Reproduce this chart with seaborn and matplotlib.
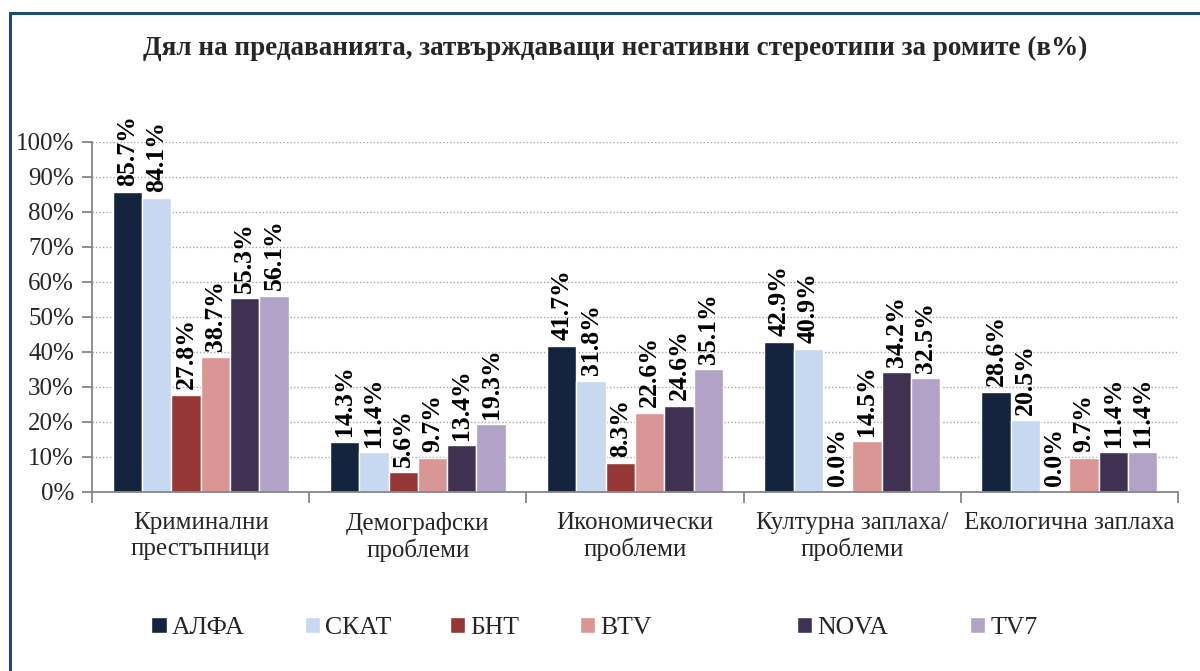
import pandas as pd
import numpy as np
import matplotlib.pyplot as plt
import matplotlib.patches as patches
from matplotlib.ticker import FuncFormatter
import seaborn as sns

# данни
categories = ["Криминални\nпрестъпници", "Демографски\nпроблеми", "Икономически\nпроблеми",
              "Културна заплаха/\nпроблеми", "Екологична заплаха"]
channels = ["АЛФА", "СКАТ", "БНТ", "BTV", "NOVA", "TV7"]
alfa = [85.7, 14.3, 41.7, 42.9, 28.6]
skat = [84.1, 11.4, 31.8, 40.9, 20.5]
bnt = [27.8, 5.6, 8.3, 0.0, 0.0]
btv = [38.7, 9.7, 22.6, 14.5, 9.7]
nova = [55.3, 13.4, 24.6, 34.2, 11.4]
tv7 = [56.1, 19.3, 35.1, 32.5, 11.4]
yticks = [0, 10, 20, 30, 40, 50, 60, 70, 80, 90, 100]

colors = ["#14243F", "#C6D9F1", "#953735", "#D99694", "#403152", "#B3A2C7"]

series = [alfa, skat, bnt, btv, nova, tv7]
rows = []
for ch, vals in zip(channels, series):
    for cat, v in zip(categories, vals):
        rows.append({"cat": cat, "tv": ch, "val": v})
df = pd.DataFrame(rows)

sns.set_style("white")
plt.rcParams['font.family'] = ['Liberation Serif', 'DejaVu Serif']

fig = plt.figure(figsize=(12, 6.71), dpi=100)
ax = fig.add_axes([0.0767, 0.2668, 0.905, 0.5216])

sns.barplot(data=df, x="cat", y="val", hue="tv", order=categories, hue_order=channels,
            palette=colors, saturation=1, width=0.81, ax=ax, errorbar=None)

for cont, vals in zip(ax.containers, series):
    ax.bar_label(cont, labels=["%.1f%%" % v for v in vals], rotation=90, padding=4,
                 fontsize=18.5, fontweight='bold', color='black')

ax.set_ylim(0, 100)
ax.set_xlim(-0.5, 4.5)
ax.set_yticks(yticks)
ax.yaxis.set_major_formatter(FuncFormatter(lambda v, p: "%d%%" % v))
ax.set_xlabel("")
ax.set_ylabel("")

ax.yaxis.grid(True, linestyle=(0, (1, 1.5)), color='#A6A6A6', linewidth=1)
ax.set_axisbelow(True)
for s in ["top", "right"]:
    ax.spines[s].set_visible(False)
for s in ["left", "bottom"]:
    ax.spines[s].set_color('#868686')
    ax.spines[s].set_linewidth(1.3)

ax.tick_params(axis='y', which='major', left=True, length=7, color='#868686', width=1.3,
               labelsize=18, pad=6)
ax.set_xticks(np.arange(-0.5, 5, 1), minor=True)
ax.tick_params(axis='x', which='minor', bottom=True, length=8, color='#868686', width=1.3)
ax.tick_params(axis='x', which='major', bottom=False, labelsize=18, pad=11)

handles, labels = ax.get_legend_handles_labels()
ax.get_legend().remove()
legend_x = [0.126, 0.254, 0.375, 0.483, 0.664, 0.808]
for h, lab, lx in zip(handles, labels, legend_x):
    leg = fig.legend([h], [lab], loc='center left', bbox_to_anchor=(lx, 0.064),
                     frameon=False, fontsize=18.5, handlelength=0.6, handleheight=0.6,
                     handletextpad=0.2, borderaxespad=0, borderpad=0)

fig.text(0.513, 0.928, "Дял на предаванията, затвърждаващи негативни стереотипи за ромите (в%)",
         ha='center', va='center', fontsize=19.5, fontweight='bold')

border = patches.Rectangle((0.0085, -0.5), 2, 0.9806 + 0.5, transform=fig.transFigure,
                           fill=False, edgecolor='#1F497D', linewidth=2.2)
fig.patches.append(border)

fig.savefig("out.png", dpi=100)
